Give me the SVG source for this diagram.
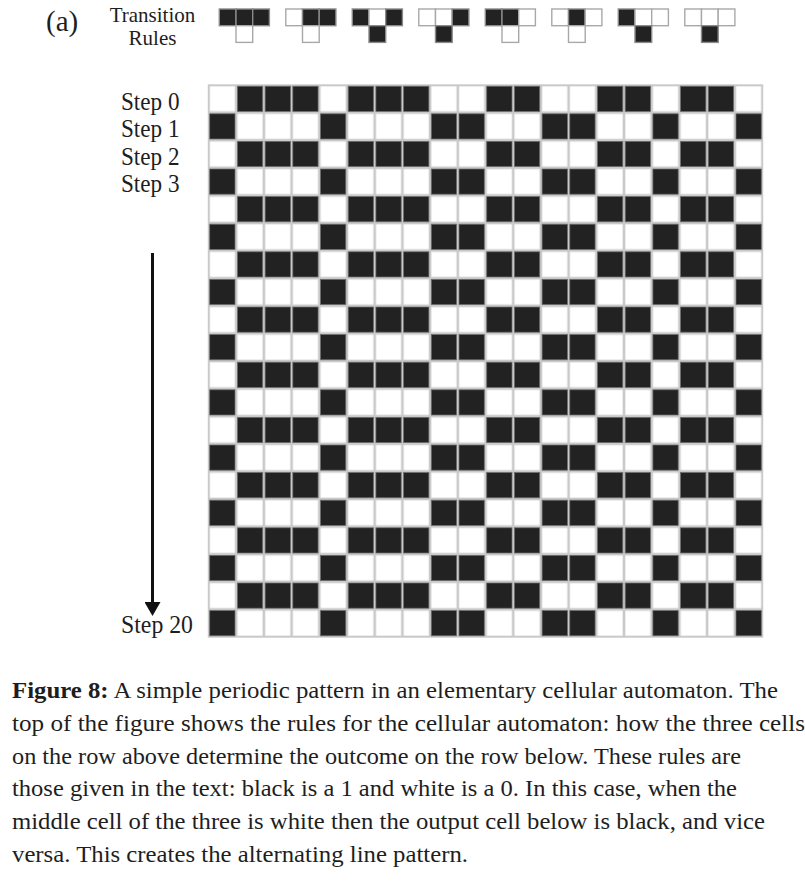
<svg xmlns="http://www.w3.org/2000/svg" xmlns:xlink="http://www.w3.org/1999/xlink" width="805" height="881" viewBox="0 0 805 881">
<style>
  text { font-family: "Liberation Serif", "Times New Roman", serif; fill: #1e1e1e; }
  .lbl { font-size: 25px; }
  .cap { font-size: 22.5px; }
  .rw { fill: #ffffff; stroke: #a8a8a8; stroke-width: 1.4; }
  .rb { fill: #222222; stroke: #8a8a8a; stroke-width: 1.4; }
  .gb { fill: #222222; stroke: #6a6a6a; stroke-width: 0.8; }
  .conn { stroke: #111111; stroke-width: 3; fill: none; }
</style>
<defs>
  <rect id="rw" width="16.7" height="16.7" class="rw"/>
  <rect id="rb" width="16.7" height="16.7" class="rb"/>
  <rect id="gb" width="25.3" height="25.2" class="gb"/>
  <pattern id="cellpat" patternUnits="userSpaceOnUse" x="208.5" y="85" width="27.7" height="27.6">
    <rect x="0" y="0" width="27.7" height="27.6" fill="#ffffff" stroke="#c9c9c9" stroke-width="2.6"/>
  </pattern>
  <marker id="arrow" viewBox="0 0 14 16" refX="0" refY="8" markerWidth="14" markerHeight="16" markerUnits="userSpaceOnUse" orient="auto">
    <path d="M0,0 L14,8 L0,16 z" fill="#111111"/>
  </marker>
  <g id="rowA">
    <use xlink:href="#gb" x="237.4"/><use xlink:href="#gb" x="265.1"/><use xlink:href="#gb" x="292.8"/>
    <use xlink:href="#gb" x="348.2"/><use xlink:href="#gb" x="375.9"/><use xlink:href="#gb" x="403.6"/>
    <use xlink:href="#gb" x="486.7"/><use xlink:href="#gb" x="514.4"/>
    <use xlink:href="#gb" x="597.5"/><use xlink:href="#gb" x="625.2"/>
    <use xlink:href="#gb" x="680.6"/><use xlink:href="#gb" x="708.3"/>
  </g>
  <g id="rowB">
    <use xlink:href="#gb" x="209.7"/><use xlink:href="#gb" x="320.5"/>
    <use xlink:href="#gb" x="431.3"/><use xlink:href="#gb" x="459.0"/>
    <use xlink:href="#gb" x="542.1"/><use xlink:href="#gb" x="569.8"/>
    <use xlink:href="#gb" x="652.9"/><use xlink:href="#gb" x="736.0"/>
  </g>
</defs>

<rect width="805" height="881" fill="#ffffff"/>

<g id="panel-label">
  <text x="46" y="31" font-size="29">(a)</text>
</g>

<g id="rules-title">
  <text x="152.5" y="22" font-size="21" text-anchor="middle">Transition</text>
  <text x="152.5" y="45" font-size="21" text-anchor="middle">Rules</text>
</g>

<g id="transition-rules">
  <g id="rule1" transform="translate(219.3,9)">
    <use xlink:href="#rb" x="0"/><use xlink:href="#rb" x="16.7"/><use xlink:href="#rb" x="33.4"/><use xlink:href="#rw" x="16.7" y="16.7"/>
  </g>
  <g id="rule2" transform="translate(285.8,9)">
    <use xlink:href="#rw" x="0"/><use xlink:href="#rb" x="16.7"/><use xlink:href="#rb" x="33.4"/><use xlink:href="#rw" x="16.7" y="16.7"/>
  </g>
  <g id="rule3" transform="translate(352.3,9)">
    <use xlink:href="#rb" x="0"/><use xlink:href="#rw" x="16.7"/><use xlink:href="#rb" x="33.4"/><use xlink:href="#rb" x="16.7" y="16.7"/>
  </g>
  <g id="rule4" transform="translate(418.8,9)">
    <use xlink:href="#rw" x="0"/><use xlink:href="#rw" x="16.7"/><use xlink:href="#rb" x="33.4"/><use xlink:href="#rb" x="16.7" y="16.7"/>
  </g>
  <g id="rule5" transform="translate(485.3,9)">
    <use xlink:href="#rb" x="0"/><use xlink:href="#rb" x="16.7"/><use xlink:href="#rw" x="33.4"/><use xlink:href="#rw" x="16.7" y="16.7"/>
  </g>
  <g id="rule6" transform="translate(551.8,9)">
    <use xlink:href="#rw" x="0"/><use xlink:href="#rb" x="16.7"/><use xlink:href="#rw" x="33.4"/><use xlink:href="#rw" x="16.7" y="16.7"/>
  </g>
  <g id="rule7" transform="translate(618.3,9)">
    <use xlink:href="#rb" x="0"/><use xlink:href="#rw" x="16.7"/><use xlink:href="#rw" x="33.4"/><use xlink:href="#rb" x="16.7" y="16.7"/>
  </g>
  <g id="rule8" transform="translate(684.8,9)">
    <use xlink:href="#rw" x="0"/><use xlink:href="#rw" x="16.7"/><use xlink:href="#rw" x="33.4"/><use xlink:href="#rb" x="16.7" y="16.7"/>
  </g>
</g>

<g id="grid">
  <rect x="208.5" y="85" width="554" height="552" fill="url(#cellpat)" stroke="#c9c9c9" stroke-width="1.4"/>
  <g transform="translate(0,86.2)">
    <use xlink:href="#rowA" y="0"/>
    <use xlink:href="#rowB" y="27.6"/>
    <use xlink:href="#rowA" y="55.2"/>
    <use xlink:href="#rowB" y="82.8"/>
    <use xlink:href="#rowA" y="110.4"/>
    <use xlink:href="#rowB" y="138"/>
    <use xlink:href="#rowA" y="165.6"/>
    <use xlink:href="#rowB" y="193.2"/>
    <use xlink:href="#rowA" y="220.8"/>
    <use xlink:href="#rowB" y="248.4"/>
    <use xlink:href="#rowA" y="276"/>
    <use xlink:href="#rowB" y="303.6"/>
    <use xlink:href="#rowA" y="331.2"/>
    <use xlink:href="#rowB" y="358.8"/>
    <use xlink:href="#rowA" y="386.4"/>
    <use xlink:href="#rowB" y="414"/>
    <use xlink:href="#rowA" y="441.6"/>
    <use xlink:href="#rowB" y="469.2"/>
    <use xlink:href="#rowA" y="496.8"/>
    <use xlink:href="#rowB" y="524.4"/>
  </g>
</g>

<g id="step-labels">
  <text class="lbl" x="121" y="109.5" textLength="58.5" lengthAdjust="spacingAndGlyphs">Step 0</text>
  <text class="lbl" x="121" y="137" textLength="58.5" lengthAdjust="spacingAndGlyphs">Step 1</text>
  <text class="lbl" x="121" y="164.6" textLength="58.5" lengthAdjust="spacingAndGlyphs">Step 2</text>
  <text class="lbl" x="121" y="192.2" textLength="58.5" lengthAdjust="spacingAndGlyphs">Step 3</text>
  <text class="lbl" x="121" y="633" textLength="72" lengthAdjust="spacingAndGlyphs">Step 20</text>
</g>

<g id="connectors">
  <line class="conn" x1="152.5" y1="253" x2="152.5" y2="602" marker-end="url(#arrow)"/>
</g>

<g id="caption">
  <text class="cap" x="12" y="698" textLength="766" lengthAdjust="spacingAndGlyphs"><tspan font-weight="bold">Figure 8:</tspan> A simple periodic pattern in an elementary cellular automaton. The</text>
  <text class="cap" x="12" y="731" textLength="793" lengthAdjust="spacingAndGlyphs">top of the figure shows the rules for the cellular automaton: how the three cells</text>
  <text class="cap" x="12" y="764" textLength="729" lengthAdjust="spacingAndGlyphs">on the row above determine the outcome on the row below. These rules are</text>
  <text class="cap" x="12" y="796" textLength="725" lengthAdjust="spacingAndGlyphs">those given in the text: black is a 1 and white is a 0. In this case, when the</text>
  <text class="cap" x="12" y="829" textLength="753" lengthAdjust="spacingAndGlyphs">middle cell of the three is white then the output cell below is black, and vice</text>
  <text class="cap" x="12" y="862" textLength="456" lengthAdjust="spacingAndGlyphs">versa. This creates the alternating line pattern.</text>
</g>
</svg>
